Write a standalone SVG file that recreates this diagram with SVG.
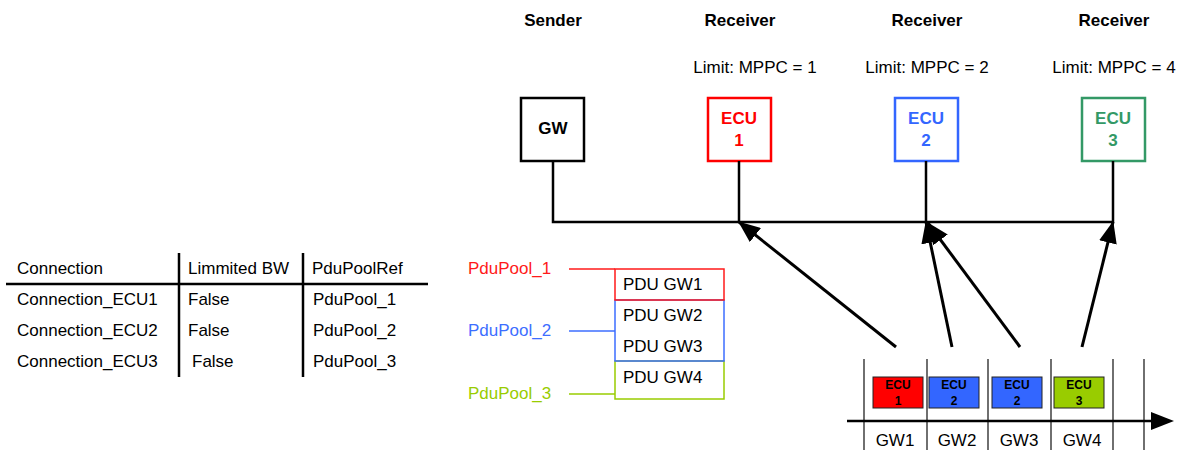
<svg xmlns="http://www.w3.org/2000/svg" width="1179" height="450" viewBox="0 0 1179 450">
<style>
text{font-family:"Liberation Sans",Arial,sans-serif;font-size:17px;fill:#000}
.b{font-weight:bold}
.m{text-anchor:middle}
.box{fill:#fff;stroke-width:2.5}
.ln{stroke:#000;stroke-width:2.5;fill:none}
.arr{stroke:#000;stroke-width:3;fill:none;marker-end:url(#ah)}
.tl{stroke:#222;stroke-width:1.3}
.chip{stroke:#222;stroke-width:1}
.ct{font-size:12px;font-weight:bold;text-anchor:middle}
</style>
<defs>
<marker id="ah" markerUnits="userSpaceOnUse" markerWidth="24" markerHeight="18" refX="21" refY="9" orient="auto">
<path d="M0,0 L22,9 L0,18 z" fill="#000"/>
</marker>
</defs>

<g id="headers">
<text class="b m" x="553" y="26">Sender</text>
<text class="b m" x="740" y="26">Receiver</text>
<text class="b m" x="927" y="26">Receiver</text>
<text class="b m" x="1114" y="26">Receiver</text>
<text class="m" x="755" y="73">Limit: MPPC = 1</text>
<text class="m" x="927" y="73">Limit: MPPC = 2</text>
<text class="m" x="1114" y="73">Limit: MPPC = 4</text>
</g>

<g id="node-gw">
<rect class="box" x="521" y="98" width="63" height="63" stroke="#000"/>
<text class="b m" x="553" y="134">GW</text>
</g>
<g id="node-ecu1">
<rect class="box" x="708" y="98" width="63" height="63" stroke="#ff0000"/>
<text class="b m" x="739" y="124" style="fill:#ff0000">ECU</text>
<text class="b m" x="739" y="146" style="fill:#ff0000">1</text>
</g>
<g id="node-ecu2">
<rect class="box" x="895" y="98" width="63" height="63" stroke="#3366ff"/>
<text class="b m" x="926" y="124" style="fill:#3366ff">ECU</text>
<text class="b m" x="926" y="146" style="fill:#3366ff">2</text>
</g>
<g id="node-ecu3">
<rect class="box" x="1082" y="98" width="63" height="63" stroke="#339966"/>
<text class="b m" x="1113" y="124" style="fill:#339966">ECU</text>
<text class="b m" x="1113" y="146" style="fill:#339966">3</text>
</g>

<g id="connectors">
<path class="ln" d="M553,161 V222 H1113 V161 M739,161 V222 M926,161 V222"/>
<line class="arr" x1="896" y1="347" x2="739" y2="222"/>
<line class="arr" x1="952" y1="347" x2="926" y2="222"/>
<line class="arr" x1="1020" y1="347" x2="928" y2="223"/>
<line class="arr" x1="1082" y1="347" x2="1113" y2="222"/>
</g>

<g id="table">
<line x1="6" y1="284" x2="428" y2="284" stroke="#000" stroke-width="2.5"/>
<line x1="179" y1="253" x2="179" y2="377" stroke="#000" stroke-width="2.5"/>
<line x1="303" y1="253" x2="303" y2="377" stroke="#000" stroke-width="2.5"/>
<text x="17" y="274">Connection</text>
<text x="188" y="274">Limmited BW</text>
<text x="312" y="274">PduPoolRef</text>
<text x="17" y="305">Connection_ECU1</text>
<text x="188" y="305">False</text>
<text x="313" y="305">PduPool_1</text>
<text x="17" y="336">Connection_ECU2</text>
<text x="188" y="336">False</text>
<text x="313" y="336">PduPool_2</text>
<text x="17" y="367">Connection_ECU3</text>
<text x="192" y="367">False</text>
<text x="313" y="367">PduPool_3</text>
</g>

<g id="pdupools">
<text x="468" y="274" style="fill:#ff1a1a">PduPool_1</text>
<text x="468" y="336" style="fill:#3d6eff">PduPool_2</text>
<text x="468" y="399" style="fill:#99cc00">PduPool_3</text>
<line x1="569" y1="269" x2="615" y2="269" stroke="#ff1a1a" stroke-width="1.5"/>
<line x1="569" y1="331" x2="615" y2="331" stroke="#3d6eff" stroke-width="1.5"/>
<line x1="569" y1="394" x2="615" y2="394" stroke="#99cc00" stroke-width="1.5"/>
<rect x="615" y="361" width="109" height="38" fill="#fff" stroke="#99cc00" stroke-width="1.5"/>
<rect x="615" y="300" width="109" height="61" fill="none" stroke="#3d6eff" stroke-width="1.5"/>
<rect x="615" y="269" width="109" height="31" fill="none" stroke="#ff1a1a" stroke-width="1.5"/>
<text x="623" y="290">PDU GW1</text>
<text x="623" y="321">PDU GW2</text>
<text x="623" y="352">PDU GW3</text>
<text x="623" y="383">PDU GW4</text>
</g>

<g id="timeline">
<line class="tl" x1="864" y1="359" x2="864" y2="450" stroke="#888"/>
<line class="tl" x1="927" y1="359" x2="927" y2="450"/>
<line class="tl" x1="988" y1="359" x2="988" y2="450"/>
<line class="tl" x1="1051" y1="359" x2="1051" y2="450"/>
<line class="tl" x1="1113" y1="359" x2="1113" y2="450"/>
<line class="tl" x1="1144" y1="359" x2="1144" y2="450"/>
<line x1="847" y1="421" x2="1154" y2="421" stroke="#000" stroke-width="2.5"/>
<path d="M1151,412 L1174,421 L1151,430 z" fill="#000"/>
<rect class="chip" x="873" y="377" width="50" height="31" fill="#ff0000"/>
<rect class="chip" x="929" y="377" width="50" height="31" fill="#3366ff"/>
<rect class="chip" x="992" y="377" width="50" height="31" fill="#3366ff"/>
<rect class="chip" x="1054" y="377" width="50" height="31" fill="#99cc00"/>
<text class="ct" x="898" y="389">ECU</text><text class="ct" x="898" y="405">1</text>
<text class="ct" x="954" y="389">ECU</text><text class="ct" x="954" y="405">2</text>
<text class="ct" x="1017" y="389">ECU</text><text class="ct" x="1017" y="405">2</text>
<text class="ct" x="1079" y="389">ECU</text><text class="ct" x="1079" y="405">3</text>
<text class="m" x="895" y="446">GW1</text>
<text class="m" x="957" y="446">GW2</text>
<text class="m" x="1019" y="446">GW3</text>
<text class="m" x="1082" y="446">GW4</text>
</g>
</svg>
